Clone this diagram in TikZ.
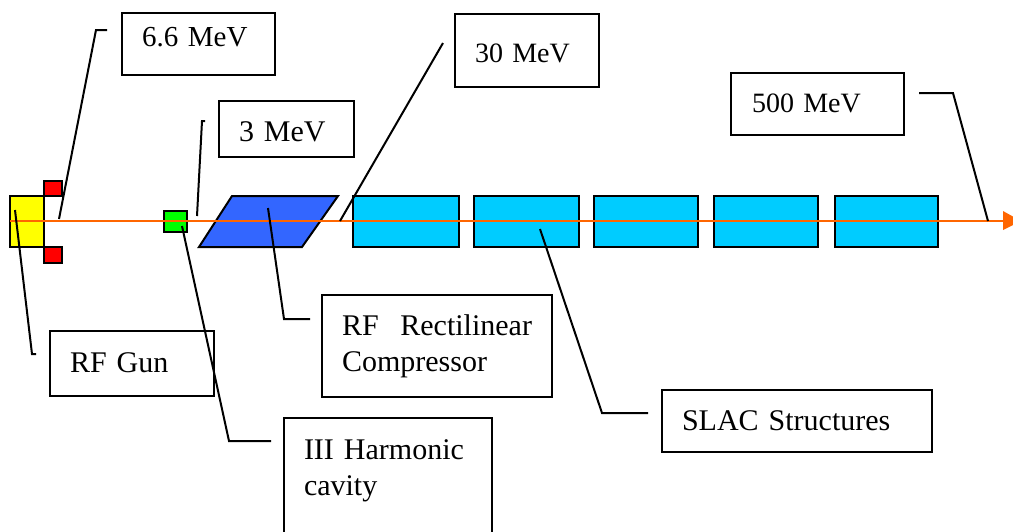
\documentclass[tikz,border=0pt]{standalone}
\usepackage{fontspec}
\setmainfont[WordSpace=0.8]{Liberation Serif}
\definecolor{beamorange}{RGB}{255,102,0}
\definecolor{gunyellow}{RGB}{255,255,0}
\definecolor{magnetred}{RGB}{255,0,0}
\definecolor{cavitygreen}{RGB}{0,255,0}
\definecolor{rfcblue}{RGB}{51,102,255}
\definecolor{slaccyan}{RGB}{0,204,255}
\tikzset{
  part/.style={draw=black,line width=1.6pt},
  leader/.style={draw=black,line width=2pt},
  beam/.style={draw=beamorange,line width=1.6pt},
  labelbox/.style={draw=black,line width=1.6pt,anchor=north west,align=left,inner xsep=20pt,inner ysep=0pt,outer sep=0pt,
    font=\fontsize{30}{36}\selectfont},
  energybox/.style={labelbox,font=\fontsize{28}{36}\selectfont}
}
\begin{document}
\begin{tikzpicture}[x=1pt,y=-1pt,line cap=butt,line join=miter]
  \useasboundingbox (0,0) rectangle (1013,531);
  \clip (0,0) rectangle (1013,531);
  % Gun with its two side magnets, then the cavity and the compressor.
  \draw[part,fill=gunyellow] (10,196) rectangle (44,247);
  \draw[part,fill=magnetred] (44,181) rectangle (62,196);
  \draw[part,fill=magnetred] (44,247) rectangle (62,263);
  \draw[part,fill=cavitygreen] (164,211) rectangle (187,232);
  \coordinate (P1) at (199,247);
  \coordinate (P2) at (232,196);
  \coordinate (P3) at (338,196);
  \coordinate (P4) at (302,247);
  \draw[part,line width=2pt,fill=rfcblue] (P1)--(P2)--(P3)--(P4)--cycle;

  \draw[part,fill=slaccyan] (353,196) rectangle (459,247);
  \draw[part,fill=slaccyan] (474,196) rectangle (579,247);
  \draw[part,fill=slaccyan] (594,196) rectangle (698,247);
  \draw[part,fill=slaccyan] (714,196) rectangle (818,247);
  \draw[part,fill=slaccyan] (835,196) rectangle (938,247);

  % Beam axis.
  \coordinate (B0) at (10,221);
  \coordinate (B1) at (1003,221);
  \draw[beam] (B0)--(B1);
  \fill[beamorange] (1003,211)--(1003,230)--(1021,221)--cycle;

  % Labels.
  \node[labelbox,font=\fontsize{29}{36}\selectfont,text width=113pt,text height=33pt,text depth=29pt] (E66) at (122,13) {6.6 MeV};
  \node[labelbox,text width=95pt,text height=40pt,text depth=16pt] (E3) at (219,101) {3 MeV};
  \node[energybox,text width=104pt,text height=48pt,text depth=25pt] (E30) at (455,14) {30 MeV};
  \node[energybox,inner xsep=21pt,text width=131pt,text height=39pt,text depth=23pt] (E500) at (731,73) {500 MeV};
  \node[labelbox,text width=124pt,text height=41pt,text depth=24pt] (Gun) at (50,331) {RF Gun};
  \node[labelbox,text width=190pt,text height=40pt,text depth=62pt] (RFC) at (322,295) {\makebox[190pt][s]{RF\hfill Rectilinear}\\Compressor};
  \node[labelbox,text width=230pt,text height=40pt,text depth=22pt] (SLAC) at (662,390) {SLAC Structures};
  \node[labelbox,text width=168pt,text height=41pt,text depth=90pt] (Harm) at (284,418) {III Harmonic\\cavity};

  % Leader lines, each from beside its label to the beam line element.
  \draw[leader] (107,30)--(96,30)--(59,219);
  \draw[leader] (205,121)--(202,121)--(197,216);
  \draw[leader] (443,43)--(340,221);
  \draw[leader] (919,93)--(953,93)--(988,221);
  \draw[leader] (15,210)--(32,354)--(36,354);
  \draw[leader] (310,319)--(284,319)--(268,208);
  \draw[leader] (271,441)--(229,441)--(182,226);
  \draw[leader] (648,413)--(602,413)--(540,229);
\end{tikzpicture}
\end{document}
